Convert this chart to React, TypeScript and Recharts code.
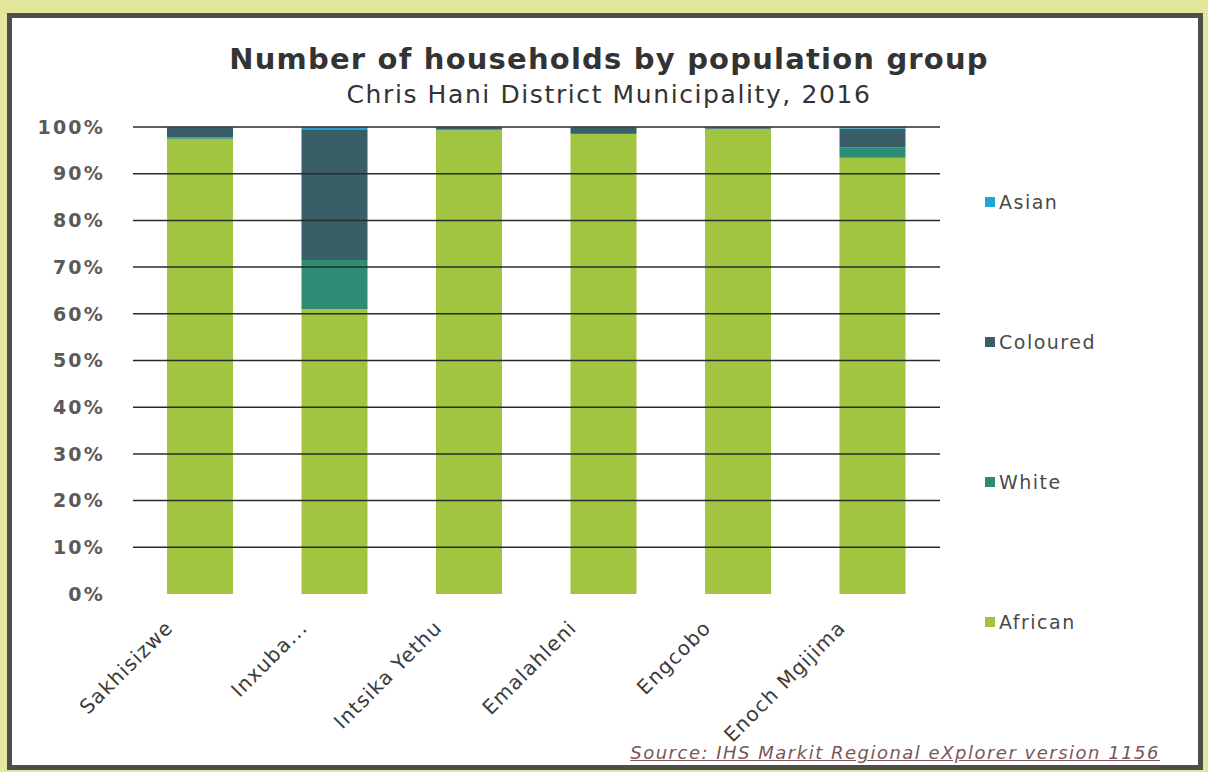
import React from 'react';
import { BarChart, Bar, XAxis, YAxis, ReferenceLine, Legend } from 'recharts';

const categories = ['Sakhisizwe', 'Inxuba...', 'Intsika Yethu', 'Emalahleni', 'Engcobo', 'Enoch Mgijima'];
const african = [97.5, 61.0, 99.3, 98.5, 99.5, 93.4];
const white = [0.3, 10.5, 0.2, 0.2, 0.1, 2.2];
const coloured = [2.0, 28.0, 0.4, 1.2, 0.3, 4.1];
const asian = [0.2, 0.5, 0.1, 0.1, 0.1, 0.3];
const yTicks = [0, 10, 20, 30, 40, 50, 60, 70, 80, 90, 100];
const seriesNames = ['African', 'White', 'Coloured', 'Asian'];
const seriesColors = ['#a2c541', '#2c8c74', '#395e68', '#1fa6d6'];
const legendOrder = ['Asian', 'Coloured', 'White', 'African'];

const FONT = '"DejaVu Sans", Verdana, sans-serif';

const XTick = (props: any) => {
  const { x, y, payload } = props;
  const ax = x - 26;
  const ay = y + 27;
  return (
    <text
      x={ax}
      y={ay}
      transform={`rotate(-45, ${ax}, ${ay})`}
      textAnchor="end"
      fontSize={20}
      letterSpacing={1.2}
      fill="#3a3a3a"
      fontFamily={FONT}
    >
      {payload.value}
    </text>
  );
};

const LegendContent = (props: any) => {
  const payload = props.payload || [];
  const items = legendOrder
    .map((name) => payload.find((p: any) => p.value === name || p.dataKey === name))
    .filter(Boolean);
  return (
    <div style={{ fontFamily: FONT }}>
      {items.map((it: any) => (
        <div key={it.value} style={{ height: 140, display: 'flex', alignItems: 'center' }}>
          <span style={{ display: 'inline-block', width: 10, height: 10, background: it.color, marginRight: 4 }} />
          <span style={{ fontSize: 19, letterSpacing: 1.5, color: '#4a4a4a' }}>{it.value}</span>
        </div>
      ))}
    </div>
  );
};

export default function App() {
  const data = categories.map((c, i) => ({
    name: c,
    African: african[i],
    White: white[i],
    Coloured: coloured[i],
    Asian: asian[i],
  }));
  return (
    <div style={{ position: 'absolute', left: 0, top: 0, width: 1208, height: 772, background: '#e3e79e', overflow: 'hidden', fontFamily: FONT }}>
      <div style={{ position: 'absolute', left: 7, top: 13, width: 1196, height: 757, border: '5px solid #4d4d4a', background: '#fff', boxSizing: 'border-box' }} />
      <div style={{ position: 'absolute', left: 0, top: 0 }}>
        <BarChart width={1208} height={772} data={data} margin={{ top: 127, right: 268, left: 0, bottom: 0 }}>
          <XAxis dataKey="name" height={178} axisLine={false} tickLine={false} interval={0} tick={<XTick />} />
          <YAxis
            width={133}
            domain={[0, 100]}
            ticks={yTicks}
            interval={0}
            tickFormatter={(v: number) => `${v}%`}
            axisLine={false}
            tickLine={false}
            tickMargin={22}
            tick={{ fill: '#5a5a5a', fontSize: 19, fontWeight: 'bold', letterSpacing: 2.2, fontFamily: FONT }}
          />
          {yTicks.filter((t) => t > 0).map((t) => (
            <ReferenceLine key={t} y={t} stroke="#2a2a2a" strokeWidth={1.5} />
          ))}
          <Legend
            layout="vertical"
            align="center"
            verticalAlign="middle"
            width={220}
            wrapperStyle={{ left: 985, top: 132 }}
            content={<LegendContent />}
          />
          {seriesNames.map((s, i) => (
            <Bar key={s} dataKey={s} stackId="a" fill={seriesColors[i]} barSize={66} isAnimationActive={false} />
          ))}
        </BarChart>
      </div>
      <div style={{ position: 'absolute', left: 0, top: 42, width: 1218, textAlign: 'center', fontSize: 29, letterSpacing: 1.2, fontWeight: 'bold', color: '#333' }}>
        Number of households by population group
      </div>
      <div style={{ position: 'absolute', left: 0, top: 80, width: 1218, textAlign: 'center', fontSize: 25, letterSpacing: 1.6, color: '#333' }}>
        Chris Hani District Municipality, 2016
      </div>
      <div style={{ position: 'absolute', right: 48, top: 742, fontSize: 18, letterSpacing: 1.5, fontStyle: 'italic', textDecoration: 'underline', color: '#7a5656' }}>
        Source: IHS Markit Regional eXplorer version 1156
      </div>
    </div>
  );
}
